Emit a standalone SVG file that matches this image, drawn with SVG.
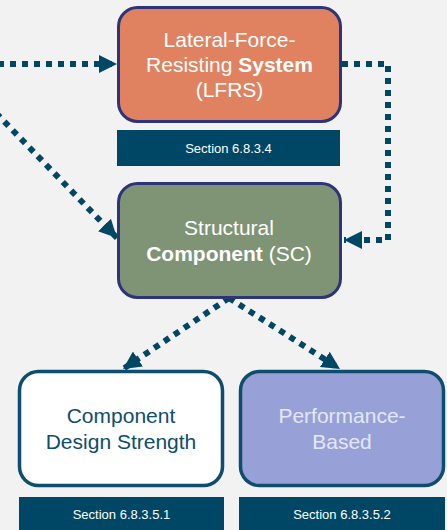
<svg xmlns="http://www.w3.org/2000/svg" width="447" height="530" viewBox="0 0 447 530">
<defs>
<style>
.conn{fill:none;stroke:#004766;stroke-width:6;stroke-dasharray:6 6;marker-end:url(#ah)}
.t{font-family:"Liberation Sans",Arial,sans-serif;font-size:21px;text-anchor:middle}
.w{fill:#ffffff}
.sec{fill:#004766}
.st{font-family:"Liberation Sans",Arial,sans-serif;font-size:13px;fill:#ffffff;text-anchor:middle}
</style>
<marker id="ah" viewBox="0 0 18 18" refX="18" refY="9" markerWidth="18" markerHeight="18" markerUnits="userSpaceOnUse" orient="auto">
<path d="M0,0 L18,9 L0,18 z" fill="#004766"/>
</marker>
</defs>
<rect width="447" height="530" fill="#f2f2f2"/>
<g id="connectors">
<path class="conn" d="M-2,64 H117"/>
<path class="conn" d="M342,64 H388 V240 H344"/>
<path class="conn" d="M-4,113 L117,238"/>
<path class="conn" d="M229,298 L123,369"/>
<path class="conn" d="M229,298 L340,369"/>
</g>
<g id="lfrs">
<rect x="118.5" y="7.5" width="222" height="114" rx="19" fill="#e08260" stroke="#2e3478" stroke-width="3"/>
<text class="t w" x="229.5" y="47">Lateral-Force-</text>
<text class="t w" x="229.5" y="72">Resisting <tspan font-weight="bold">System</tspan></text>
<text class="t w" x="229.5" y="97">(LFRS)</text>
</g>
<g id="sec-lfrs">
<rect class="sec" x="117" y="130" width="223" height="36"/>
<text class="st" x="228.5" y="153">Section 6.8.3.4</text>
</g>
<g id="sc">
<rect x="118.5" y="183.5" width="222" height="114" rx="19" fill="#7f9375" stroke="#2e3478" stroke-width="3"/>
<text class="t w" x="229" y="235">Structural</text>
<text class="t w" x="229" y="261"><tspan font-weight="bold">Component</tspan> (SC)</text>
</g>
<g id="cds">
<rect x="19.5" y="371.5" width="203" height="114" rx="19" fill="#ffffff" stroke="#0e4d6c" stroke-width="3.5"/>
<text class="t" fill="#0e4d6c" x="121" y="423">Component</text>
<text class="t" fill="#0e4d6c" x="121" y="449">Design Strength</text>
</g>
<g id="pb">
<rect x="240.5" y="371.5" width="203" height="114" rx="19" fill="#97a1d8" stroke="#0e4d6c" stroke-width="3.5"/>
<text class="t" fill="#e4e7f5" x="342" y="423">Performance-</text>
<text class="t" fill="#e4e7f5" x="342" y="449">Based</text>
</g>
<g id="sec-cds">
<rect class="sec" x="19" y="497" width="205" height="34"/>
<text class="st" x="121.5" y="519">Section 6.8.3.5.1</text>
</g>
<g id="sec-pb">
<rect class="sec" x="239" y="497" width="206" height="34"/>
<text class="st" x="342" y="519">Section 6.8.3.5.2</text>
</g>
</svg>
